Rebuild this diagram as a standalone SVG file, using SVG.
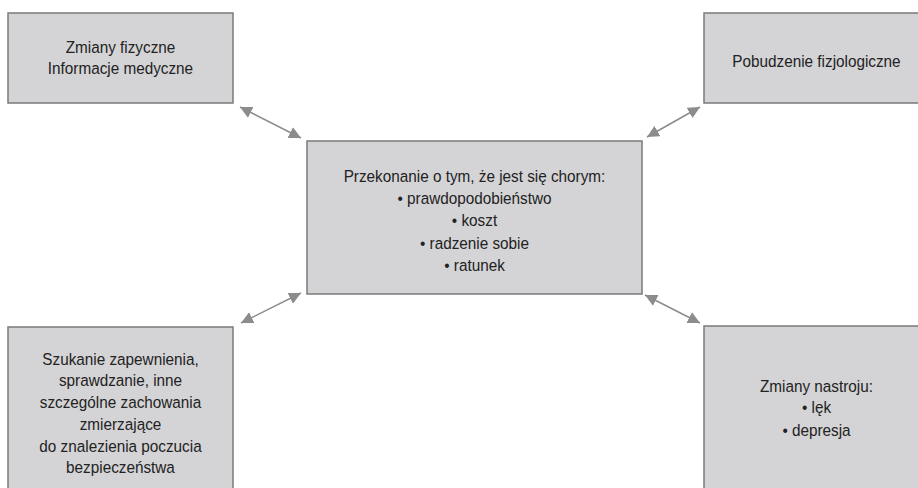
<svg xmlns="http://www.w3.org/2000/svg" width="918" height="488" viewBox="0 0 918 488">
<style>
.box{fill:#d4d4d6;stroke:#7a7a7a;stroke-width:1.5}
.t{font-family:"Liberation Sans",Arial,sans-serif;font-size:17px;fill:#222;text-anchor:middle}
.c{stroke:#8c8c8c;stroke-width:1.5;fill:none;marker-start:url(#ah);marker-end:url(#ah)}
</style>
<defs>
<marker id="ah" viewBox="0 0 12 12" refX="12" refY="6" markerWidth="12" markerHeight="12" markerUnits="userSpaceOnUse" orient="auto-start-reverse">
<path d="M0,0 L12,6 L0,12 Z" fill="#8c8c8c"/>
</marker>
</defs>
<rect width="918" height="488" fill="#fff"/>
<g id="connectors">
<line class="c" x1="240" y1="107" x2="301" y2="138"/>
<line class="c" x1="647" y1="137" x2="700" y2="107"/>
<line class="c" x1="241" y1="323" x2="301" y2="293"/>
<line class="c" x1="645" y1="295" x2="700" y2="323"/>
</g>
<g id="n1">
<rect class="box" x="8" y="13" width="225" height="90"/>
<g transform="translate(120.5,0) scale(0.9,1)">
<text class="t" x="0" y="53">Zmiany fizyczne</text>
<text class="t" x="0" y="74">Informacje medyczne</text>
</g>
</g>
<g id="n2">
<rect class="box" x="704" y="13" width="225" height="90"/>
<g transform="translate(816.5,0) scale(0.9,1)">
<text class="t" x="0" y="67">Pobudzenie fizjologiczne</text>
</g>
</g>
<g id="n3">
<rect class="box" x="307" y="141" width="335" height="153"/>
<g transform="translate(474.5,0) scale(0.9,1)">
<text class="t" x="0" y="182.5">Przekonanie o tym, że jest się chorym:</text>
<text class="t" x="0" y="204.5">• prawdopodobieństwo</text>
<text class="t" x="0" y="226.5">• koszt</text>
<text class="t" x="0" y="249">• radzenie sobie</text>
<text class="t" x="0" y="271.5">• ratunek</text>
</g>
</g>
<g id="n4">
<rect class="box" x="8" y="327" width="225" height="170"/>
<g transform="translate(120.5,0) scale(0.9,1)">
<text class="t" x="0" y="365">Szukanie zapewnienia,</text>
<text class="t" x="0" y="386.5">sprawdzanie, inne</text>
<text class="t" x="0" y="408">szczególne zachowania</text>
<text class="t" x="0" y="430">zmierzające</text>
<text class="t" x="0" y="452">do znalezienia poczucia</text>
<text class="t" x="0" y="473">bezpieczeństwa</text>
</g>
</g>
<g id="n5">
<rect class="box" x="704" y="326" width="225" height="170"/>
<g transform="translate(816.5,0) scale(0.9,1)">
<text class="t" x="0" y="392">Zmiany nastroju:</text>
<text class="t" x="0" y="413.5">• lęk</text>
<text class="t" x="0" y="436">• depresja</text>
</g>
</g>
</svg>
